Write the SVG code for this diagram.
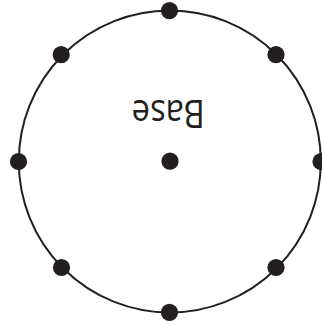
<svg xmlns="http://www.w3.org/2000/svg" width="322" height="325" viewBox="0 0 322 325">
<style>
.ring{fill:none;stroke:#231f20;stroke-width:2}
.dot{fill:#231f20}
.lbl{font-family:"Open Sans","Noto Sans",sans-serif;font-size:39px;fill:#231f20}
</style>
<rect width="322" height="325" fill="#fff"/>
<g id="ring"><circle class="ring" cx="169.8" cy="161.5" r="151"/></g>
<g id="dots">
<g id="n-top"><circle class="dot" cx="169.5" cy="10.7" r="8.6"/></g>
<g id="n-tr"><circle class="dot" cx="276" cy="54.7" r="8.6"/></g>
<g id="n-right"><circle class="dot" cx="321" cy="161.5" r="8.6"/></g>
<g id="n-br"><circle class="dot" cx="276" cy="267.5" r="8.6"/></g>
<g id="n-bottom"><circle class="dot" cx="169.5" cy="312.3" r="8.6"/></g>
<g id="n-bl"><circle class="dot" cx="61.5" cy="267.5" r="8.6"/></g>
<g id="n-left"><circle class="dot" cx="18.5" cy="161.5" r="8.6"/></g>
<g id="n-tl"><circle class="dot" cx="61.2" cy="54.7" r="8.6"/></g>
<g id="n-center"><circle class="dot" cx="170" cy="161.2" r="8.6"/></g>
</g>
<g id="label"><text class="lbl" x="168.3" y="129" text-anchor="middle" textLength="73" lengthAdjust="spacingAndGlyphs" transform="rotate(180 168.3 114.5)">Base</text></g>
</svg>
